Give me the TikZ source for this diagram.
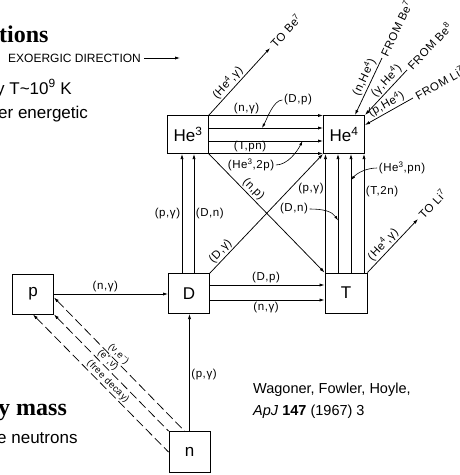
\documentclass[tikz,border=0pt]{standalone}
\usepackage{fontspec}
\setmainfont{Liberation Serif}
\setsansfont{Liberation Sans}
\newfontfamily\lettering[LetterSpace=5]{Liberation Sans}
\usetikzlibrary{arrows.meta}

\begin{document}
\begin{tikzpicture}[
    x=1pt, y=-1pt,
    box/.style={draw, line width=1pt, minimum width=41pt, minimum height=38pt,
      inner sep=0pt, font=\sffamily\fontsize{17}{17}\selectfont},
    arrow/.style={-{Latex[length=5pt,width=3.2pt]}, line width=0.75pt},
    back/.style={{Latex[length=5pt,width=3.2pt]}-, line width=0.75pt},
    decay/.style={back, dash pattern=on 9pt off 4pt},
    lead/.style={-{Latex[length=4.5pt,width=2.8pt]}, line width=0.6pt},
    lbl/.style={font=\lettering\fontsize{11.5}{11.5}\selectfont, inner sep=1.5pt},
    small/.style={lbl, font=\lettering\fontsize{9.5}{9.5}\selectfont, inner sep=1.5pt},
    slide/.style={font=\sffamily\fontsize{17}{17}\selectfont, anchor=base west, inner sep=0pt},
    head/.style={font=\rmfamily\bfseries\fontsize{24}{24}\selectfont, anchor=base west, inner sep=0pt}
  ]
  \useasboundingbox (0,0) rectangle (460,475);

  \node[head] (title) at (-1,42) {tions};
  \node[slide] (temp) at (-4,94) {y T\textasciitilde10\textsuperscript{9} K};
  \node[slide] (ener) at (-2,118) {er energetic};
  \node[head] (mass) at (-2,415) {y mass};
  \node[slide] (neut) at (-3,443) {e neutrons};
  \node[font=\sffamily\fontsize{12}{12}\selectfont, anchor=base west, inner sep=0pt]
    (exo) at (8,62) {EXOERGIC DIRECTION};
  \coordinate (exoend) at (180,58);
  \draw[arrow] (exo.east |- exoend) ++(3,0) -- (exoend);

  \node[box] (He3) at (188,134.5) {He\textsuperscript{3}};
  \node[box] (He4) at (344,134.5) {He\textsuperscript{4}};
  \node[box, minimum height=40pt] (p) at (33,294) {p};
  \node[box, minimum height=40pt] (D) at (189,293.5) {D};
  \node[box, minimum width=42pt, minimum height=40pt] (T) at (346,293) {T};
  \node[box, minimum height=41pt] (n) at (189.5,452) {n};

  \draw[arrow] ([yshift=19pt]He3.east) -- node[lbl, above, pos=0.33] {(n,γ)}
    ([yshift=19pt]He3.east -| He4.west);
  \draw[arrow] ([yshift=6.5pt]He3.east) -- coordinate[pos=0.465] (dpin)
    ([yshift=6.5pt]He3.east -| He4.west);
  \draw[arrow] ([yshift=-6.5pt]He3.east) -- coordinate[pos=0.82] (he2pin)
    ([yshift=-6.5pt]He3.east -| He4.west);
  \draw[arrow] ([yshift=-19pt]He3.east) -- node[lbl, above, pos=0.36] {(T,pn)}
    ([yshift=-19pt]He3.east -| He4.west);
  \node[lbl] (dp) at (298,100) {(D,p)};
  \draw[lead] (dp.west) .. controls +(-9,0) and +(5,-9) .. (dpin);
  \node[lbl] (he2p) at (251,165) {(He\textsuperscript{3},2p)};
  \draw[lead] (he2p.east) .. controls +(12,0) and +(-5,10) .. (he2pin);

  \draw[arrow] ([xshift=-7pt]D.north) -- node[lbl, left] {(p,γ)}
    ([xshift=-7pt]D.north |- He3.south);
  \draw[arrow] ([xshift=5pt]D.north) -- node[lbl, right] {(D,n)}
    ([xshift=5pt]D.north |- He3.south);

  \draw[arrow] ([xshift=-20.5pt]T.north) -- node[lbl, left, pos=0.71] {(p,γ)}
    ([xshift=-20.5pt]T.north |- He4.south);
  \draw[arrow] ([xshift=-8pt]T.north) -- coordinate[pos=0.44] (dnin)
    ([xshift=-8pt]T.north |- He4.south);
  \draw[arrow] ([xshift=5pt]T.north) -- coordinate[pos=0.78] (hepnin)
    ([xshift=5pt]T.north |- He4.south);
  \draw[arrow] ([xshift=18pt]T.north) -- node[lbl, right, pos=0.68] {(T,2n)}
    ([xshift=18pt]T.north |- He4.south);
  \node[lbl] (dn) at (294,209) {(D,n)};
  \draw[lead] (dn.east) .. controls +(14,0) and +(-6,-9) .. (dnin);
  \node[lbl] (hepn) at (402,168) {(He\textsuperscript{3},pn)};
  \draw[lead] (hepn.west) .. controls +(-11,0) and +(6,-7) .. (hepnin);

  \draw[arrow] (He3.south east) -- node[lbl, sloped, above, pos=0.34] {(n,p)} (T.north west);
  \draw[arrow] (D.north east) -- node[lbl, sloped, above, pos=0.14] {(D,γ)} (He4.south west);

  \draw[arrow] ([yshift=8.5pt]D.east) -- node[lbl, above, pos=0.49] {(D,p)}
    ([yshift=8.5pt]D.east -| T.west);
  \draw[arrow] ([yshift=-6.5pt]D.east) -- node[lbl, below, pos=0.49] {(n,γ)}
    ([yshift=-6.5pt]D.east -| T.west);
  \draw[arrow] (p.east) -- node[lbl, above, pos=0.45] {(n,γ)} (p.east -| D.west);
  \draw[arrow] (n.north) -- node[lbl, right, pos=0.48] {(p,γ)} (n.north |- D.south);

  \draw[decay] ([yshift=-3.5pt]p.east) -- node[small, sloped, above, pos=0.46]
    {(ν,e\textsuperscript{−})} ([xshift=-5pt]n.north);
  \draw[decay] (p.south east) -- node[small, sloped, above, pos=0.43]
    {(e\textsuperscript{+},ν̄)} (n.north west);
  \draw[decay] (p.south) -- node[small, sloped, above, pos=0.52]
    {(free decay)} (n.west);

  \coordinate (toBe7) at (270,48);
  \coordinate (fromBe7) at (382,58);
  \coordinate (fromBe8) at (407,70);
  \coordinate (fromLi7) at (413,98);
  \coordinate (toLi7) at (418,219);
  \draw[arrow] (He3.north east) -- node[lbl, sloped, above, pos=0.4] {(He\textsuperscript{4},γ)}
    node[lbl, sloped, anchor=west, pos=1, inner sep=3pt] {TO Be\textsuperscript{7}} (toBe7);
  \draw[back] ([xshift=11pt]He4.north) -- node[lbl, sloped, above, pos=0.6] {(n,He\textsuperscript{4})}
    node[lbl, sloped, anchor=west, pos=1, inner sep=3pt] {FROM Be\textsuperscript{7}} (fromBe7);
  \draw[back] (He4.north east) -- node[lbl, sloped, above, pos=0.64] {(γ,He\textsuperscript{4})}
    node[lbl, sloped, anchor=west, pos=1, inner sep=3pt] {FROM Be\textsuperscript{8}} (fromBe8);
  \draw[back] ([yshift=9.5pt]He4.east) -- node[lbl, sloped, above, pos=0.52] {(p,He\textsuperscript{4})}
    node[lbl, sloped, anchor=west, pos=1, inner sep=3pt] {FROM Li\textsuperscript{7}} (fromLi7);
  \draw[arrow] (T.north east) -- node[lbl, sloped, above, pos=0.42] {(He\textsuperscript{4},γ)}
    node[lbl, sloped, anchor=west, pos=1, inner sep=3pt] {TO Li\textsuperscript{7}} (toLi7);

  \node[font=\sffamily\fontsize{14.5}{21.5}\selectfont, align=left, anchor=base west, inner sep=0pt]
    (cite) at (253,415) {Wagoner, Fowler, Hoyle,\\\textit{ApJ} \textbf{147} (1967) 3};
\end{tikzpicture}
\end{document}
